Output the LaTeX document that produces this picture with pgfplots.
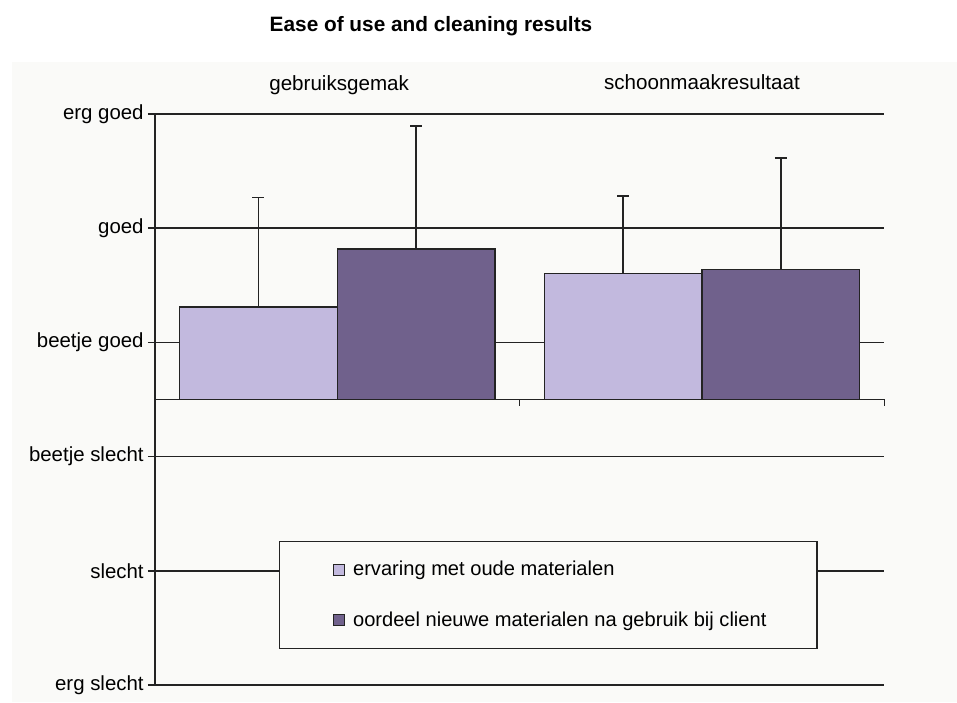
\documentclass[border=0pt]{standalone}
\usepackage{fontspec}
\setmainfont{Liberation Sans}
\usepackage{pgfplots}
\pgfplotsset{compat=1.18}
\definecolor{lightbar}{RGB}{194,185,222}
\definecolor{darkbar}{RGB}{112,97,140}
\definecolor{scanbg}{RGB}{250,250,248}
\definecolor{lin}{RGB}{35,35,35}
\begin{document}
\begin{tikzpicture}
\useasboundingbox (-77.5pt,-8.5pt) rectangle (401pt,342.5pt);
\fill[white] (-77.5pt,-8.5pt) rectangle (401pt,342.5pt);
\fill[scanbg] (-71.5pt,-8.5pt) rectangle (401pt,311.5pt);
\node[anchor=base, font=\bfseries\fontsize{10.4}{12}\selectfont] at (138pt,326.6pt) {Ease of use and cleaning results};
\begin{axis}[
  at={(0pt,0pt)}, anchor=south west,
  scale only axis, width=364.65pt, height=285.5pt,
  xmin=-0.5, xmax=1.5, ymin=-2.5, ymax=2.5,
  axis x line=none,
  axis y line*=left,
  y axis line style={lin, line width=0.8pt},
  ytick={-2.5,-1.5,-0.5,0.5,1.5,2.5},
  yticklabels={erg slecht, slecht, beetje slecht, beetje goed, goed, erg goed},
  ymajorgrids, grid style={lin, line width=0.8pt},
  ytick style={lin, line width=0.8pt},
  tick align=outside, major tick length=3.5pt,
  yticklabel style={font=\fontsize{10.2}{12}\selectfont, inner sep=0pt, xshift=-2pt},
  clip=false,
  legend cell align=left,
  legend style={at={(axis description cs:0.170,0.2522)}, anchor=north west,
    draw=lin, line width=0.7pt, fill=scanbg,
    inner xsep=23.8pt, inner ysep=7.6pt, row sep=12.5pt,
    font=\fontsize{10.05}{12}\selectfont,
    nodes={inner xsep=1.5pt}},
]
\addplot[ybar, bar width=0.4324, bar shift=-0.2162, fill=lightbar, draw=lin, line width=0.8pt,
  legend image code/.code={\path (-2.6pt,0pt); \draw[fill=lightbar, draw=lin, line width=0.5pt] (0pt,-2.7pt) rectangle (5.4pt,2.7pt); \path (8pt,0pt);}]
  coordinates {(0,0.808) (1,1.103)};
\addlegendentry{ervaring met oude materialen}
\addplot[ybar, bar width=0.4324, bar shift=0.2162, fill=darkbar, draw=lin, line width=0.8pt,
  legend image code/.code={\path (-2.6pt,0pt); \draw[fill=darkbar, draw=lin, line width=0.5pt] (0pt,-2.7pt) rectangle (5.4pt,2.7pt); \path (8pt,0pt);}]
  coordinates {(0,1.316) (1,1.138)};
\addlegendentry{oordeel nieuwe materialen na gebruik bij client}
% error bars at the bar centres
\addplot[forget plot, draw=none, mark=none,
  error bars/.cd, y dir=plus, y explicit,
  error bar style={lin, line width=0.8pt},
  error mark options={lin, line width=0.9pt, mark size=3pt, rotate=90}]
  coordinates {(-0.2162,0.808) +- (0,0.961) (0.7838,1.103) +- (0,0.680)};
\addplot[forget plot, draw=none, mark=none,
  error bars/.cd, y dir=plus, y explicit,
  error bar style={lin, line width=0.8pt},
  error mark options={lin, line width=0.9pt, mark size=3pt, rotate=90}]
  coordinates {(0.2162,1.316) +- (0,1.077) (1.2162,1.138) +- (0,0.975)};
\draw[lin, line width=0.8pt] (axis cs:-0.5,0) -- (axis cs:1.5,0);
\draw[lin, line width=0.8pt] (axis cs:0.5,0) -- ([yshift=-3.5pt]axis cs:0.5,0);
\draw[lin, line width=0.8pt] (axis cs:1.5,0) -- ([yshift=-3.5pt]axis cs:1.5,0);
\node[anchor=base, font=\fontsize{10.3}{12}\selectfont] at ([yshift=11.6pt]axis cs:0.005,2.5) {gebruiksgemak};
\node[anchor=base, font=\fontsize{10.3}{12}\selectfont] at ([yshift=12.4pt]axis cs:1,2.5) {schoonmaakresultaat};
\end{axis}
\end{tikzpicture}
\end{document}
